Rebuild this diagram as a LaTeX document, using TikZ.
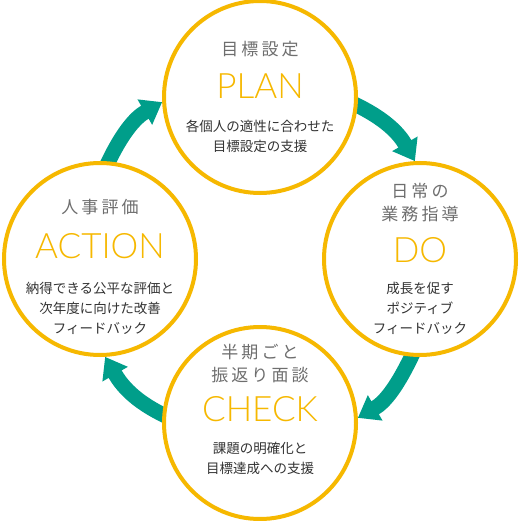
\documentclass[tikz,border=0pt]{standalone}
\usepackage{fontspec}
\setmainfont{Noto Sans CJK JP}
\newfontfamily\headfont{Noto Sans CJK JP}[LetterSpace=18]
\newfontfamily\wordfont{Lato Light}
\usetikzlibrary{arrows.meta,backgrounds}
\definecolor{CycleYellow}{HTML}{F6B800}
\definecolor{CycleTeal}{HTML}{009E8A}
\definecolor{CycleGray}{HTML}{6E6E6E}
\definecolor{CycleText}{HTML}{333333}

\begin{document}
\begin{tikzpicture}[x=1pt,y=1pt,
  ring/.style={circle,draw=CycleYellow,line width=4pt,fill=white,minimum size=192pt,inner sep=0pt},
  head/.style={text=CycleGray,font=\headfont\fontsize{17}{23}\selectfont,align=center,inner sep=0pt},
  word/.style={text=CycleYellow,font=\wordfont\fontsize{35}{40}\selectfont,inner sep=0pt},
  body/.style={text=CycleText,font=\fontsize{13.5}{20}\selectfont,align=center,inner sep=0pt},
  flow/.style={draw=CycleTeal,line width=15pt,shorten <=-6pt,-{Triangle[length=20pt,width=28pt]}}]
  \useasboundingbox (0,0) rectangle (520,-521);
  % the four stages, clockwise from the top
  \node[ring] (plan) at (260,-97) {};
  \node[ring] (do) at (420,-259) {};
  \node[ring] (check) at (260,-423) {};
  \node[ring] (action) at (100,-259) {};
  % texts
  \node[head] (planhead) at (260,-49) {目標設定};
  \node[word] (planword) at (260,-86) {PLAN};
  \node[body] (plantext) at (260,-136) {各個人の適性に合わせた\\目標設定の支援};
  \node[head] (dohead) at (420,-202.5) {日常の\\業務指導};
  \node[word] (doword) at (420,-250) {DO};
  \node[body] (dotext) at (420,-308) {成長を促す\\ポジティブ\\フィードバック};
  \node[head] (checkhead) at (260,-363.5) {半期ごと\\振返り面談};
  \node[word] (checkword) at (260,-409) {CHECK};
  \node[body] (checktext) at (260,-458.5) {課題の明確化と\\目標達成への支援};
  \node[head] (actionhead) at (100,-207) {人事評価};
  \node[word] (actionword) at (100,-246) {ACTION};
  \node[body] (actiontext) at (100,-308) {納得できる公平な評価と\\次年度に向けた改善\\フィードバック};
  % arrows behind the rings
  \begin{scope}[on background layer]
    \fill[white] (0,0) rectangle (520,-521);
    \draw[flow] (plan.-5) to[out=-25,in=120] (do.93);
    \draw[flow] (do.-95) to[out=-115,in=30] (check.3);
    \draw[flow] (check.175) to[out=155,in=-60] (action.-87);
    \draw[flow] (action.85) to[out=65,in=-150] (plan.183);
  \end{scope}
\end{tikzpicture}
\end{document}
